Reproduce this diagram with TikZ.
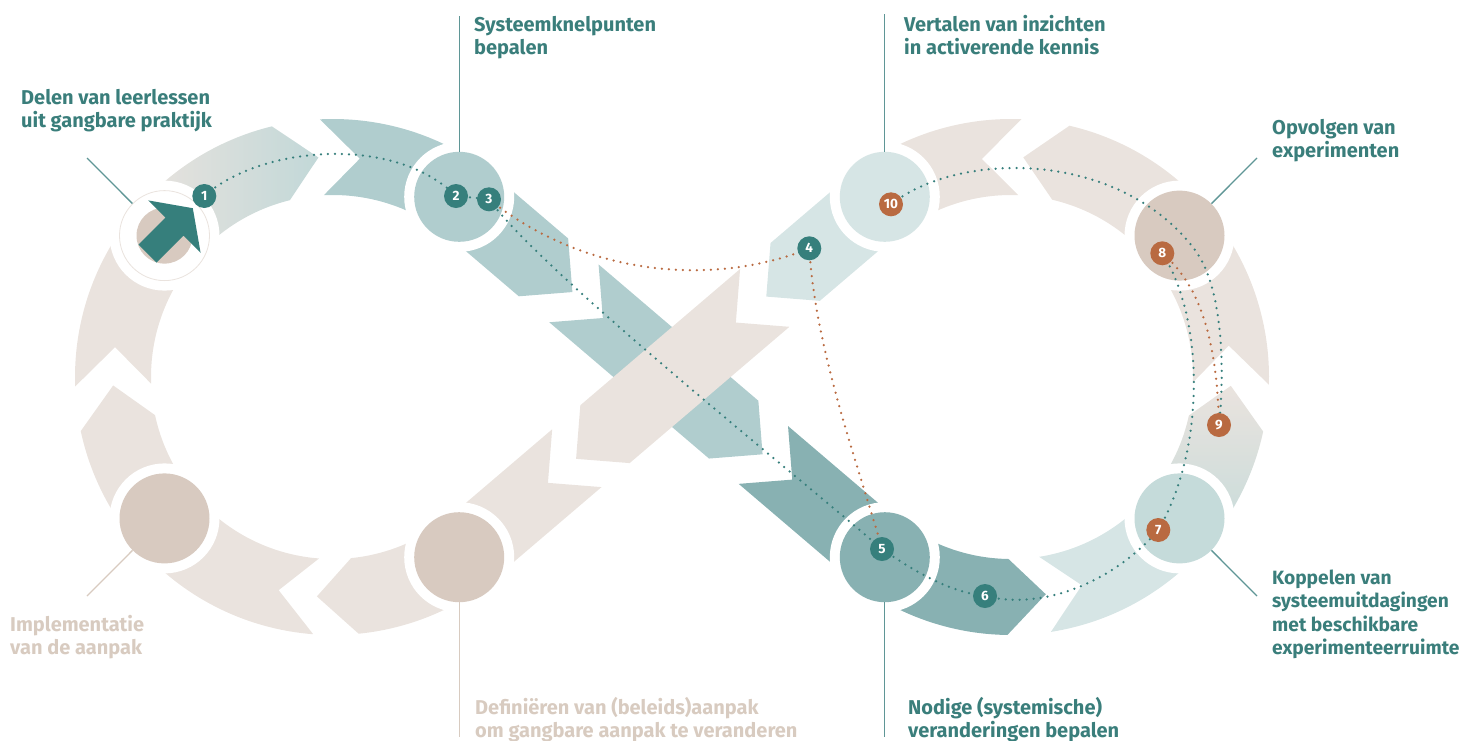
\documentclass[tikz,border=0pt]{standalone}
\usepackage{fontspec}
\setmainfont{Fira Sans}
\newfontfamily\lblfont{Fira Sans}
\usetikzlibrary{calc}
\definecolor{bandbeige}{HTML}{EAE3DE}
\definecolor{circbeige}{HTML}{D8CAC0}
\definecolor{tealA}{HTML}{B0CDCE}
\definecolor{tealB}{HTML}{88B1B2}
\definecolor{tealC}{HTML}{D6E5E5}
\definecolor{tealD}{HTML}{C5DBDA}
\definecolor{tealG}{HTML}{C2D8D8}
\definecolor{darkteal}{HTML}{367F7C}
\definecolor{labteal}{HTML}{3A7E7B}
\definecolor{rust}{HTML}{B96A41}
\definecolor{leadteal}{HTML}{5F9696}
\definecolor{lblbeige}{HTML}{D8CBC0}
% arc piece: #1 opts, #2 cx, #3 cy, #4 tail angle, #5 head angle, #6 tail notch offset, #7 head apex offset
\newcommand\arcpiece[7]{%
 \path[#1] ({#2+258*cos(#4)},{#3+258*sin(#4)})
  -- ({#2+220*cos((#4)+(#6))},{#3+220*sin((#4)+(#6))})
  -- plot[domain=#4:#5,samples=45] ({#2+182*cos(\x)},{#3+182*sin(\x)})
  -- ({#2+220*cos((#5)+(#7))},{#3+220*sin((#5)+(#7))})
  -- plot[domain=#5:#4,samples=45] ({#2+258*cos(\x)},{#3+258*sin(\x)})
  -- cycle;}
% straight piece: #1 opts, #2 sx, #3 sy, #4 dx, #5 dy, #6 t0, #7 t1, #8 notch, #9 apex
\newcommand\diagpiece[9]{%
 \path[#1] ({#2+(#6)*(#4)-38*(#5)},{#3+(#6)*(#5)+38*(#4)})
  -- ({#2+((#6)+(#8))*(#4)},{#3+((#6)+(#8))*(#5)})
  -- ({#2+(#6)*(#4)+38*(#5)},{#3+(#6)*(#5)-38*(#4)})
  -- ({#2+(#7)*(#4)+38*(#5)},{#3+(#7)*(#5)-38*(#4)})
  -- ({#2+((#7)+(#9))*(#4)},{#3+((#7)+(#9))*(#5)})
  -- ({#2+(#7)*(#4)-38*(#5)},{#3+(#7)*(#5)+38*(#4)})
  -- cycle;}
\tikzset{
 hub/.style={circle, inner sep=0pt, minimum size=90pt},
 badge/.style={circle, inner sep=0pt, minimum size=24pt, fill=#1, text=white,
   font=\lblfont\bfseries\fontsize{13.5}{13.5}\selectfont},
 lbl/.style={anchor=base west, align=left, inner sep=0pt, text=#1,
   font=\lblfont\bfseries\fontsize{20}{23.5}\selectfont},
 leader/.style={draw=#1, line width=1.3pt},
 dots/.style={draw=#1, line width=2.5pt, line cap=round, dash pattern=on 0pt off 7pt},
}
\begin{document}
\begin{tikzpicture}[x=1pt,y=-1pt]
\useasboundingbox (0,0) rectangle (1465,740);
% ---- left loop pieces (centre 333,377)
\arcpiece{fill=bandbeige}{333}{377}{55}{84.3}{0}{9.9}
\arcpiece{fill=bandbeige}{333}{377}{94.4}{140}{9.9}{0}
\arcpiece{fill=bandbeige}{333}{377}{140}{167.9}{0}{9.9}
\arcpiece{fill=bandbeige}{333}{377}{177.9}{220}{9.9}{0}
\arcpiece{left color=bandbeige,right color=tealG}{333}{377}{220}{256.3}{0}{9.9}
\arcpiece{fill=tealA}{333}{377}{267.1}{305}{9.9}{0}
% ---- right loop pieces (centre 1011,377)
\arcpiece{fill=tealB}{1011}{377}{125}{90.8}{0}{-9.9}
\arcpiece{fill=tealC}{1011}{377}{81.1}{40}{-9.9}{0}
\arcpiece{top color=bandbeige,bottom color=tealD}{1011}{377}{40}{12.2}{0}{-9.9}
\arcpiece{fill=bandbeige}{1011}{377}{1.7}{-40}{-9.9}{0}
\arcpiece{fill=bandbeige}{1011}{377}{-40}{-76.9}{0}{-9.9}
\arcpiece{fill=bandbeige}{1011}{377}{-87.7}{-125}{-9.9}{0}
% ---- diagonals
\diagpiece{fill=tealA}{475.77}{209.62}{0.7608}{0.6490}{-25}{89}{0}{38}
\diagpiece{fill=tealA}{475.77}{209.62}{0.7608}{0.6490}{129}{339}{38}{38}
\diagpiece{fill=tealB}{475.77}{209.62}{0.7608}{0.6490}{378}{540}{38}{0}
\diagpiece{fill=tealC}{868.23}{209.62}{-0.7608}{0.6490}{-25}{96}{0}{38}
\diagpiece{fill=bandbeige}{868.23}{209.62}{-0.7608}{0.6490}{383}{540}{38}{0}
\diagpiece{fill=bandbeige}{868.23}{209.62}{-0.7608}{0.6490}{136}{346}{38}{38}
% ---- hubs
\foreach \p in {(164.5,235.6),(459.2,196.8),(164.5,518.4),(459.2,557.2),(884.8,557.2),(1179.5,518.4),(1179.5,235.6),(884.8,196.8)}
  \fill[white] \p circle[radius=55];
\node[hub, draw=bandbeige, line width=0.8pt] (h1) at (164.5,235.6) {};
\fill[circbeige] (h1.center) circle[radius=28];
\fill[darkteal] (138.5,244.5) -- (165.4,217.6) -- (148.2,200.4) -- (192.8,208.2)
   -- (200.6,252.8) -- (183.4,235.6) -- (156.5,262.5) -- cycle;
\node[hub, fill=tealA] (h2) at (459.2,196.8) {};
\node[hub, fill=circbeige] (h3) at (164.5,518.4) {};
\node[hub, fill=circbeige] (h4) at (459.2,557.2) {};
\node[hub, fill=tealB] (h5) at (884.8,557.2) {};
\node[hub, fill=tealD] (h6) at (1179.5,518.4) {};
\node[hub, fill=circbeige] (h7) at (1179.5,235.6) {};
\node[hub, fill=tealC] (h8) at (884.8,196.8) {};
% ---- leader lines
\coordinate (e1) at (87,158);
\coordinate (e2) at (459.2,16);
\coordinate (e8) at (884.8,14);
\coordinate (e7) at (1257,158);
\coordinate (e6) at (1257,596);
\coordinate (e5) at (884.8,737);
\coordinate (e4) at (459.2,737);
\coordinate (e3) at (87,596);
\draw[leader=leadteal] (h1.135) -- (e1);
\draw[leader=leadteal] (h2.north) -- (e2);
\draw[leader=leadteal] (h8.north) -- (e8);
\draw[leader=leadteal] (h7.45) -- (e7);
\draw[leader=leadteal] (h6.-45) -- (e6);
\draw[leader=leadteal] (h5.south) -- (e5);
\draw[leader=lblbeige] (h4.south) -- (e4);
\draw[leader=lblbeige] (h3.-135) -- (e3);
% ---- badge positions
\coordinate (p1) at (204.3,196);
\coordinate (p2) at (456,196);
\coordinate (p3) at (489,199.3);
\coordinate (p4) at (809.3,248.3);
\coordinate (p5) at (882,549);
\coordinate (p6) at (985,596);
\coordinate (p7) at (1158.3,530);
\coordinate (p8) at (1162.3,253.3);
\coordinate (p9) at (1219,425);
\coordinate (p10) at (891,204.3);
\coordinate (m1) at (1195,250);
% ---- dotted routes
\draw[dots=darkteal] (p1) .. controls (262,145) and (395,135) .. (p2);
\draw[dots=darkteal] (p2) -- (p3);
\draw[dots=darkteal] (p3) .. controls (540,270) and (790,470) .. (p5);
\draw[dots=darkteal] (p5) .. controls (915,572) and (950,592) .. (p6);
\draw[dots=darkteal] (p6) .. controls (1050,612) and (1120,575) .. (p7);
\draw[dots=darkteal] (p7) .. controls (1205,450) and (1205,320) .. (p8);
\draw[dots=darkteal] (p10) .. controls (960,150) and (1120,150) .. (m1)
   .. controls (1225,290) and (1224,380) .. (p9);
\draw[dots=rust] (p3) .. controls (590,280) and (720,285) .. (p4);
\draw[dots=rust] (p4) .. controls (815,350) and (860,470) .. (p5);
\draw[dots=rust] (p8) .. controls (1200,285) and (1217,340) .. (p9);
% ---- badges
\node[badge=darkteal] (b1) at (p1) {1};
\node[badge=darkteal] (b2) at (p2) {2};
\node[badge=darkteal] (b3) at (p3) {3};
\node[badge=darkteal] (b4) at (p4) {4};
\node[badge=darkteal] (b5) at (p5) {5};
\node[badge=darkteal] (b6) at (p6) {6};
\node[badge=rust] (b7) at (p7) {7};
\node[badge=rust] (b8) at (p8) {8};
\node[badge=rust] (b9) at (p9) {9};
\node[badge=rust] (b10) at (p10) {10};
% ---- labels (anchor = baseline of last line)
\node[lbl=labteal] (t1) at (21,127.5) {Delen van leerlessen\\uit gangbare praktijk};
\node[lbl=labteal] (t2) at (474,54.5) {Systeemknelpunten\\bepalen};
\node[lbl=labteal] (t3) at (904,54.5) {Vertalen van inzichten\\in activerende kennis};
\node[lbl=labteal] (t4) at (1272,157.5) {Opvolgen van\\experimenten};
\node[lbl=labteal, font=\lblfont\bfseries\fontsize{19.2}{23.5}\selectfont] (t5) at (1272,654.5) {Koppelen van\\systeemuitdagingen\\met beschikbare\\experimenteerruimte};
\node[lbl=lblbeige] (t6) at (10,654.5) {Implementatie\\van de aanpak};
\node[lbl=lblbeige] (t7) at (475,737.5) {Definiëren van (beleids)aanpak\\om gangbare aanpak te veranderen};
\node[lbl=labteal] (t8) at (908,737.5) {Nodige (systemische)\\veranderingen bepalen};
\end{tikzpicture}
\end{document}
